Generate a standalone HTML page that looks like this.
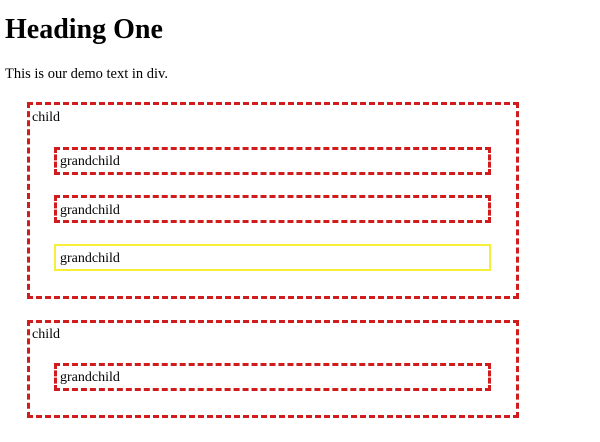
<!DOCTYPE html>
<html><head><style>
body{margin:0;width:600px;height:442px;background:#fff;font-family:"Liberation Serif",serif;color:#000;position:relative;overflow:hidden}
.a{position:absolute;box-sizing:border-box}
.r{border:3px dashed #d01c1c}
.t{position:absolute;font-size:14px;line-height:16px;white-space:nowrap}
</style></head><body>
<div class="t" style="left:5px;top:14px;font-size:28px;line-height:32px;font-weight:bold">Heading One</div>
<div class="t" style="left:5px;top:66px;font-size:14.5px">This is our demo text in div.</div>
<div class="a r" style="left:27px;top:102px;width:492px;height:197px"></div>
<div class="t" style="left:32px;top:110px">child</div>
<div class="a r" style="left:54px;top:147px;width:437px;height:28px"></div>
<div class="t" style="left:60px;top:154px">grandchild</div>
<div class="a r" style="left:54px;top:195px;width:437px;height:28px"></div>
<div class="t" style="left:60px;top:203px">grandchild</div>
<div class="a" style="left:54px;top:244px;width:437px;height:27px;border:2px solid #f5ef3a"></div>
<div class="t" style="left:60px;top:251px">grandchild</div>
<div class="a r" style="left:27px;top:320px;width:492px;height:98px"></div>
<div class="t" style="left:32px;top:327px">child</div>
<div class="a r" style="left:54px;top:363px;width:437px;height:28px"></div>
<div class="t" style="left:60px;top:370px">grandchild</div>
</body></html>
